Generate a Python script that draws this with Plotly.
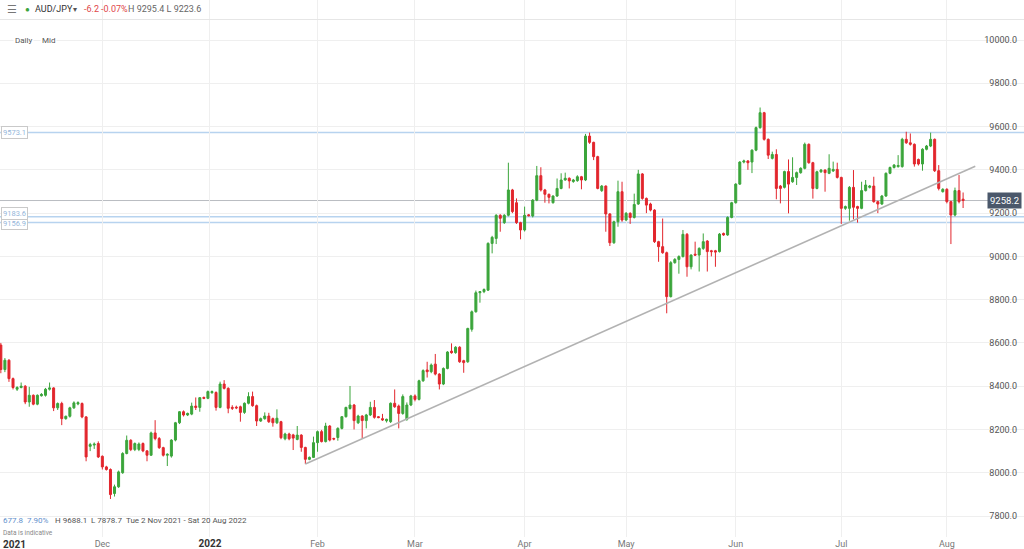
import pandas as pd
import plotly.graph_objects as go

# ---------------- data ----------------
start_date = "2021-11-02"
end_date = "2022-08-05"

opens = [
    8590, 8477, 8520, 8435, 8386, 8394, 8400, 8327, 8358, 8317,
    8356, 8358, 8386, 8392, 8300, 8320, 8250, 8261, 8300, 8318,
    8320, 8258, 8122, 8128, 8135, 8076, 8027, 8015, 7904, 7935,
    8000, 8089, 8150, 8107, 8108, 8135, 8101, 8081, 8184, 8158,
    8116, 8081, 8077, 8151, 8231, 8282, 8267, 8271, 8308, 8302,
    8348, 8344, 8370, 8371, 8302, 8410, 8390, 8302, 8303, 8305,
    8279, 8321, 8352, 8310, 8239, 8250, 8262, 8250, 8231, 8236,
    8157, 8179, 8175, 8154, 8174, 8117, 8062, 8071, 8139, 8190,
    8144, 8216, 8158, 8163, 8205, 8259, 8297, 8313, 8231, 8262,
    8241, 8267, 8302, 8259, 8250, 8240, 8236, 8321, 8308, 8274,
    8247, 8313, 8355, 8339, 8425, 8475, 8467, 8502, 8456, 8410,
    8482, 8562, 8555, 8580, 8518, 8513, 8663, 8744, 8832, 8837,
    8844, 9060, 9083, 9190, 9156, 9190, 9307, 9248, 9156, 9122,
    9192, 9187, 9260, 9373, 9307, 9287, 9248, 9279, 9314, 9353,
    9361, 9346, 9350, 9368, 9353, 9556, 9527, 9461, 9304, 9325,
    9196, 9063, 9160, 9299, 9168, 9199, 9180, 9242, 9381, 9268,
    9242, 9214, 9068, 9045, 9017, 8814, 8971, 8986, 8999, 9102,
    8952, 9010, 9006, 9037, 9071, 9026, 9026, 9022, 9106, 9099,
    9180, 9248, 9334, 9436, 9441, 9436, 9491, 9595, 9664, 9541,
    9453, 9471, 9325, 9319, 9392, 9345, 9365, 9387, 9407, 9518,
    9433, 9314, 9391, 9399, 9384, 9395, 9402, 9365, 9222, 9222,
    9319, 9230, 9222, 9304, 9319, 9325, 9253, 9242, 9279, 9384,
    9411, 9415, 9415, 9541, 9525, 9518, 9448, 9427, 9495, 9510,
    9541, 9396, 9299, 9310, 9253, 9191, 9304, 9264.4,
]
highs = [
    8600, 8530, 8525, 8440, 8400, 8417, 8405, 8397, 8362, 8362,
    8368, 8392, 8417, 8395, 8325, 8328, 8264, 8305, 8330, 8330,
    8325, 8262, 8138, 8140, 8145, 8080, 8032, 8020, 7945, 8010,
    8095, 8172, 8155, 8140, 8140, 8140, 8105, 8190, 8243, 8165,
    8120, 8090, 8155, 8235, 8285, 8288, 8278, 8324, 8348, 8350,
    8352, 8380, 8380, 8376, 8421, 8428, 8395, 8312, 8310, 8310,
    8325, 8372, 8375, 8315, 8255, 8279, 8277, 8255, 8293, 8240,
    8185, 8185, 8180, 8216, 8178, 8120, 8075, 8167, 8195, 8198,
    8231, 8220, 8162, 8210, 8262, 8305, 8401, 8318, 8268, 8266,
    8272, 8328, 8336, 8262, 8272, 8250, 8325, 8385, 8315, 8362,
    8325, 8360, 8362, 8430, 8478, 8513, 8505, 8549, 8460, 8487,
    8562, 8598, 8585, 8585, 8522, 8670, 8750, 8842, 8840, 8852,
    9065, 9095, 9195, 9195, 9195, 9433, 9312, 9268, 9160, 9230,
    9196, 9265, 9418, 9412, 9312, 9290, 9282, 9360, 9384, 9387,
    9365, 9358, 9375, 9372, 9566, 9572, 9530, 9465, 9330, 9328,
    9200, 9165, 9350, 9345, 9205, 9204, 9290, 9400, 9385, 9272,
    9248, 9218, 9072, 9175, 9022, 8978, 8992, 9005, 9122, 9108,
    9010, 9068, 9042, 9106, 9075, 9030, 9030, 9108, 9110, 9185,
    9252, 9338, 9440, 9447, 9445, 9495, 9600, 9688.1, 9668, 9545,
    9484, 9495, 9330, 9396, 9448, 9458, 9392, 9412, 9526, 9522,
    9437, 9396, 9404, 9402, 9472, 9438, 9433, 9368, 9235, 9325,
    9399, 9234, 9345, 9353, 9330, 9368, 9257, 9284, 9388, 9415,
    9427, 9468, 9548, 9576, 9568, 9522, 9452, 9500, 9515, 9572,
    9545, 9422, 9315, 9315, 9257, 9318, 9376, 9295.4,
]
lows = [
    8460, 8465, 8420, 8385, 8378, 8390, 8317, 8305, 8312, 8312,
    8352, 8352, 8380, 8285, 8290, 8220, 8245, 8255, 8295, 8312,
    8252, 8053, 8100, 8110, 8068, 8015, 8010, 7878.7, 7890, 7930,
    7995, 8085, 8100, 8100, 8100, 8095, 8053, 8078, 8150, 8110,
    8075, 8031, 8070, 8145, 8225, 8260, 8262, 8266, 8290, 8282,
    8340, 8340, 8365, 8287, 8298, 8385, 8275, 8290, 8294, 8236,
    8272, 8316, 8305, 8216, 8235, 8245, 8230, 8213, 8225, 8155,
    8150, 8150, 8105, 8150, 8097, 8040, 8058, 8068, 8097, 8140,
    8140, 8145, 8150, 8148, 8200, 8255, 8292, 8200, 8225, 8159,
    8205, 8262, 8250, 8252, 8240, 8232, 8230, 8300, 8205, 8268,
    8240, 8308, 8330, 8334, 8420, 8440, 8460, 8450, 8385, 8405,
    8478, 8550, 8550, 8508, 8462, 8508, 8652, 8740, 8786, 8830,
    8840, 9014, 9057, 9114, 9150, 9185, 9200, 9150, 9079, 9115,
    9185, 9180, 9255, 9300, 9248, 9245, 9244, 9275, 9310, 9350,
    9314, 9340, 9345, 9310, 9348, 9520, 9445, 9310, 9298, 9114,
    9048, 9058, 9137, 9160, 9163, 9150, 9175, 9238, 9262, 9200,
    9208, 9062, 8975, 9012, 8737, 8810, 8966, 8920, 8995, 8906,
    8940, 9002, 8930, 9030, 8930, 9000, 8952, 9018, 9095, 9095,
    9176, 9244, 9330, 9430, 9400, 9385, 9486, 9590, 9535, 9450,
    9448, 9264, 9245, 9314, 9199, 9340, 9330, 9382, 9402, 9428,
    9267, 9310, 9386, 9299, 9380, 9390, 9360, 9150, 9215, 9165,
    9171, 9156, 9218, 9300, 9314, 9248, 9200, 9238, 9275, 9380,
    9406, 9410, 9410, 9520, 9512, 9415, 9420, 9396, 9490, 9505,
    9390, 9305, 9295, 9245, 9057, 9185, 9245, 9223.6,
]
closes = [
    8477, 8520, 8435, 8394, 8394, 8400, 8327, 8358, 8317, 8358,
    8362, 8386, 8392, 8300, 8320, 8250, 8261, 8300, 8323, 8324,
    8258, 8073, 8130, 8132, 8073, 8027, 8015, 7899, 7935, 8004,
    8089, 8150, 8107, 8135, 8133, 8101, 8081, 8184, 8158, 8116,
    8081, 8085, 8151, 8231, 8282, 8267, 8274, 8308, 8302, 8347,
    8344, 8375, 8375, 8302, 8410, 8390, 8298, 8298, 8300, 8279,
    8321, 8352, 8310, 8239, 8250, 8262, 8236, 8231, 8252, 8162,
    8179, 8157, 8160, 8174, 8117, 8062, 8071, 8139, 8190, 8144,
    8216, 8151, 8156, 8205, 8259, 8302, 8313, 8241, 8262, 8241,
    8267, 8302, 8256, 8255, 8244, 8247, 8321, 8305, 8274, 8352,
    8313, 8355, 8339, 8425, 8472, 8467, 8498, 8456, 8410, 8482,
    8558, 8555, 8580, 8513, 8509, 8667, 8744, 8832, 8837, 8847,
    9060, 9088, 9190, 9176, 9190, 9307, 9207, 9156, 9122, 9190,
    9188, 9260, 9373, 9307, 9287, 9273, 9279, 9314, 9353, 9361,
    9349, 9353, 9368, 9353, 9556, 9527, 9461, 9314, 9325, 9196,
    9063, 9160, 9299, 9168, 9199, 9180, 9240, 9381, 9268, 9237,
    9214, 9068, 9045, 9017, 8814, 8971, 8986, 8999, 9102, 8952,
    9006, 9006, 9037, 9068, 9022, 9022, 9020, 9103, 9099, 9180,
    9248, 9334, 9436, 9441, 9433, 9491, 9595, 9664, 9541, 9468,
    9471, 9314, 9314, 9392, 9334, 9365, 9387, 9407, 9518, 9433,
    9314, 9391, 9399, 9387, 9407, 9402, 9365, 9222, 9230, 9319,
    9227, 9222, 9304, 9330, 9325, 9253, 9242, 9279, 9384, 9411,
    9422, 9420, 9541, 9525, 9518, 9427, 9427, 9495, 9510, 9541,
    9396, 9314, 9310, 9253, 9191, 9304, 9253, 9258.2,
]

# trading calendar: every day except Saturday
dates = [d for d in pd.date_range(start_date, end_date, freq="D") if d.weekday() != 5]
n = min(len(dates), len(opens), len(highs), len(lows), len(closes))
dates = dates[:n]

trend_x = ["2022-01-28", "2022-08-09"]
trend_y = [8040, 9417]

levels_blue = [9573.1, 9156.9, 9183.6]
level_labels = ["9573.1", "9156.9", "9183.6"]
level_shift = [0, -1, 3]
last_price = 9258.2

month_ticks = ["2021-12-01", "2021-12-31 12:00", "2022-02-01", "2022-03-01", "2022-04-01",
               "2022-05-01", "2022-06-01", "2022-07-01", "2022-08-01"]
month_labels = ["Dec", "<span style='font-size:10px;color:#333'><b>2022</b></span>", "Feb", "Mar",
                "Apr", "May", "Jun", "Jul", "Aug"]

x_range = ["2021-11-01 19:00", "2022-08-23 00:00"]
y_range = [7703, 10185]

GREEN = "#3ba53b"
RED = "#e2262d"
FONT = "Roboto"

W, H_PLOT = 1024, 537


def px(x):
    return x / W


def py(y):
    return 1 - y / H_PLOT


fig = go.Figure()

fig.add_trace(go.Candlestick(
    x=dates, open=opens[:n], high=highs[:n], low=lows[:n], close=closes[:n],
    increasing=dict(line=dict(color=GREEN, width=1), fillcolor=GREEN),
    decreasing=dict(line=dict(color=RED, width=1), fillcolor=RED),
    whiskerwidth=0, hoverinfo="skip", showlegend=False,
))

fig.add_trace(go.Scatter(
    x=trend_x, y=trend_y, mode="lines",
    line=dict(color="#b2b2b2", width=1.6), hoverinfo="skip", showlegend=False,
))

shapes = []
for lv in levels_blue:
    shapes.append(dict(type="line", xref="paper", yref="y", x0=0, x1=1, y0=lv, y1=lv,
                       line=dict(color="#b7d3ef", width=1.5), layer="below"))
shapes.append(dict(type="line", xref="paper", yref="y", x0=0, x1=px(990), y0=last_price, y1=last_price,
                   line=dict(color="#b9bcc2", width=1), layer="below"))
shapes.append(dict(type="line", xref="paper", yref="paper", x0=0, x1=1, y0=py(19.5), y1=py(19.5),
                   line=dict(color="#e6e6e6", width=1)))

ann = []
# level labels on the left
for lv, lab, sh in zip(levels_blue, level_labels, level_shift):
    ann.append(dict(x=px(1), y=lv, xref="paper", yref="y", text=lab, showarrow=False,
                    xanchor="left", yanchor="middle", yshift=sh,
                    font=dict(family=FONT, size=7.5, color="#94b6da"),
                    bgcolor="white", bordercolor="#c9c9c9", borderwidth=1, borderpad=1))
# last price box on the right
ann.append(dict(x=px(1022), y=last_price, xref="paper", yref="y", text=f"{last_price:.1f}",
                showarrow=False, xanchor="right", yanchor="middle",
                font=dict(family=FONT, size=9.5, color="white"),
                bgcolor="#4b586b", borderpad=2))

# header
ann += [
    dict(x=px(12), y=py(9), text="☰", font=dict(size=11, color="#777")),
    dict(x=px(27), y=py(9), text="●", font=dict(size=8, color=GREEN)),
    dict(x=px(33), y=py(9), text="AUD/JPY", xanchor="left", font=dict(size=9, color="#333")),
    dict(x=px(75), y=py(10), text="▾", font=dict(size=8, color="#555")),
    dict(x=px(82), y=py(9), text="-6.2", xanchor="left", font=dict(size=9, color="#e0464a")),
    dict(x=px(99), y=py(9), text="-0.07%", xanchor="left", font=dict(size=9, color="#e0464a")),
    dict(x=px(126), y=py(9), text="H 9295.4 L 9223.6", xanchor="left", font=dict(size=9, color="#666")),
    dict(x=px(13), y=py(40), text="Daily", xanchor="left", bgcolor="white", font=dict(size=8, color="#555")),
    dict(x=px(40), y=py(40), text="Mid", xanchor="left", bgcolor="white", font=dict(size=8, color="#555")),
    # bottom stats
    dict(x=px(1), y=py(520), text="677.8", xanchor="left", font=dict(size=8, color="#5f8fcc")),
    dict(x=px(25), y=py(520), text="7.90%", xanchor="left", font=dict(size=8, color="#5f8fcc")),
    dict(x=px(53), y=py(520), text="H 9688.1", xanchor="left", font=dict(size=8, color="#555")),
    dict(x=px(89), y=py(520), text="L 7878.7", xanchor="left", font=dict(size=8, color="#555")),
    dict(x=px(124), y=py(520), text="Tue 2 Nov 2021 - Sat 20 Aug 2022", xanchor="left",
         font=dict(size=8, color="#555")),
    dict(x=px(1), y=py(533), text="Data is indicative", xanchor="left", font=dict(size=6.5, color="#888")),
    dict(x=px(1), y=py(544), text="<b>2021</b>", xanchor="left", font=dict(size=10, color="#333")),
]
for a in ann:
    a.setdefault("xref", "paper")
    a.setdefault("yref", "paper")
    a.setdefault("showarrow", False)
    a.setdefault("yanchor", "middle")
    a.setdefault("xanchor", "center")
    f = a.setdefault("font", {})
    f.setdefault("family", FONT)

fig.update_layout(
    width=1024, height=549,
    margin=dict(l=0, r=0, t=0, b=12),
    paper_bgcolor="white", plot_bgcolor="white",
    font=dict(family=FONT, size=9, color="#555"),
    showlegend=False, hovermode=False,
    shapes=shapes, annotations=ann,
    xaxis=dict(
        type="date", range=x_range, rangeslider=dict(visible=False),
        rangebreaks=[dict(bounds=["sat", "sun"])],
        tickmode="array", tickvals=month_ticks, ticktext=month_labels,
        showgrid=True, gridcolor="#efefef", gridwidth=1, zeroline=False, showline=False,
        ticks="", tickfont=dict(family=FONT, size=9, color="#777"), automargin=False,
    ),
    yaxis=dict(
        side="right", range=y_range, dtick=200, tick0=0, tickformat=".1f",
        ticklabelposition="inside", ticks="", ticklabelstandoff=4,
        showgrid=True, gridcolor="#efefef", gridwidth=1, zeroline=False, showline=False,
        tickfont=dict(family=FONT, size=9, color="#555"), automargin=False,
    ),
)

fig.write_html("out.html")
